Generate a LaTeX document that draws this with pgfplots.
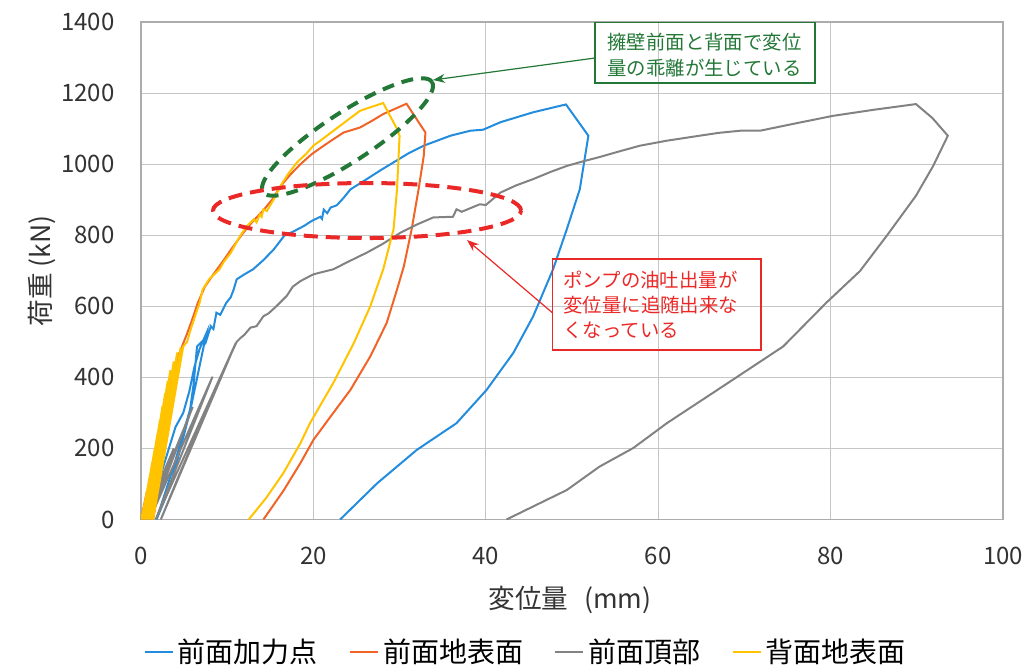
\documentclass[border=0pt]{standalone}
\usepackage{fontspec}
\setmainfont{Noto Sans CJK JP}
\usepackage{pgfplots}
\pgfplotsset{compat=1.18}
\usetikzlibrary{arrows.meta,shapes.geometric}
\definecolor{cBlue}{RGB}{35,140,220}
\definecolor{cOrange}{RGB}{240,100,40}
\definecolor{cGray}{RGB}{130,130,130}
\definecolor{cYellow}{RGB}{255,195,0}
\definecolor{cGreen}{RGB}{35,120,55}
\definecolor{cRed}{RGB}{235,40,40}
\begin{document}
\begin{tikzpicture}
\useasboundingbox (-70.5pt,-75.25pt) rectangle (443pt,259.75pt);
\begin{axis}[
  at={(0pt,0pt)}, anchor=south west,
  scale only axis, width=431pt, height=248.75pt,
  xmin=0, xmax=100, ymin=0, ymax=1400,
  xtick={0,20,...,100}, ytick={0,200,...,1400},
  grid=major, major grid style={gray!45, line width=0.5pt},
  axis line style={gray!65, line width=0.6pt},
  major tick length=0pt,
  tick label style={font=\fontsize{12}{14}\selectfont, text=black!80},
  /pgf/number format/assume math mode=true,
  /pgf/number format/set thousands separator={},
  yticklabel style={inner sep=0pt, anchor=east, xshift=-13pt},
  xticklabel style={inner sep=0pt, anchor=north, yshift=-13.5pt},
  xlabel={変位量\hspace{0.6em}(mm)},
  ylabel={荷重 (kN)},
  label style={font=\fontsize{13.3}{15}\selectfont, text=black!80},
  xlabel style={at={(axis description cs:0.4977,-0.1618)}, anchor=center},
  ylabel style={at={(axis description cs:-0.1148,0.5)}, anchor=center},
  legend columns=4,
  legend cell align=left,
  legend style={at={(axis description cs:0.0023,-0.266)}, anchor=west, draw=none, fill=none, inner sep=0pt,
    font=\fontsize{14}{16}\selectfont, nodes={inner sep=0pt},
    /tikz/every odd column/.append style={column sep=2pt},
    /tikz/every even column/.append style={column sep=15.5pt}},
  legend image code/.code={\draw[#1, line width=1.2pt] (0pt,0pt) -- (14pt,0pt);},
]
\addplot[cBlue, line width=1pt] coordinates {
(0,0)(1.5,100)(0.3,0)(2.8,200)(0.7,0)(4.0,260)(4.9,300)(5.6,360)(6.2,430)(6.8,480)(7.6,525)(5.7,305)(3.5,100)(1.8,0)(3.8,150)(5.7,310)(6.1,380)(6.5,487)(7.3,506)(7.5,498)(8.1,544)(8.4,536)(8.75,582)(9.2,576)(9.9,610)(10.4,625)(10.75,647)(11.1,676)(12.0,690)(13.0,704)(14.2,730)(15.4,760)(16.6,798)(17.8,812)(18.9,826)(19.8,840)(20.8,852)(21.0,846)(21.2,872)(21.6,862)(22.0,878)(22.7,884)(23.5,905)(24.3,929)(26.2,958)(27.8,983)(29.3,1005)(31.0,1030)(32.8,1052)(35.9,1080)(38.2,1094)(39.7,1097)(41.7,1118)(45.5,1146)(49.3,1168)(51.9,1080)(50.9,929)(49.4,817)(47.8,704)(45.5,572)(43.2,469)(40.1,365)(36.6,271)(32.0,196)(27.4,102)(23.1,0)
};
\addlegendentry{前面加力点}
\addplot[cOrange, line width=1pt] coordinates {
(0,0)(0.7,80)(0.15,0)(1.4,160)(0.35,0)(2.1,240)(0.6,0)(2.9,320)(0.8,0)(3.7,400)(1.1,0)(4.4,470)(1.4,0)(4.8,490)(5.3,520)(5.9,560)(6.6,610)(7.4,655)(8.4,690)(9.6,730)(10.6,765)(11.8,805)(13.0,840)(14.2,870)(15.2,900)(16.2,938)(17.3,970)(18.5,1000)(19.8,1028)(21.2,1052)(22.3,1070)(23.5,1089)(25.4,1103)(26.8,1122)(28.1,1141)(29.5,1156)(30.8,1170)(33.0,1089)(32.8,1023)(32.2,929)(31.4,817)(30.5,713)(29.7,647)(28.5,553)(26.6,459)(24.3,365)(22.0,290)(20.0,224)(18.5,159)(16.5,80)(14.2,0)
};
\addlegendentry{前面地表面}
\addplot[cGray, line width=1pt] coordinates {
(0,0)(1.8,100)(0.3,0)(3.8,200)(0.7,0)(6.0,317)(1.0,0)(8.3,402)(1.7,0)(11.0,497)(2.3,0)(4.5,130)(6.8,260)(9.0,390)(11.1,500)(11.6,512)(12.0,520)(12.7,540)(13.4,544)(14.2,572)(14.8,580)(15.7,600)(16.9,629)(17.6,655)(18.5,671)(20.0,690)(22.3,704)(24.0,725)(26.2,751)(28.0,775)(30.1,807)(32.0,830)(33.9,850)(36.2,852)(36.6,873)(37.2,866)(39.3,887)(40.0,885)(41.7,920)(43.5,940)(45.5,958)(47.5,978)(49.4,995)(51.3,1008)(53.2,1020)(55.5,1036)(57.9,1052)(61.0,1066)(64.8,1080)(67.0,1088)(69.5,1094)(71.8,1094)(76.0,1115)(80.3,1136)(85.0,1153)(89.9,1169)(91.8,1130)(93.6,1080)(91.9,995)(89.9,911)(86.5,798)(83.4,699)(79.5,610)(74.5,487)(68.7,394)(61.0,271)(57.1,201)(53.2,149)(49.4,83)(42.4,0)
};
\addlegendentry{前面頂部}
\addplot[cYellow, line width=1pt] coordinates {
(0,0)(0.4,40)(0.05,0)(0.7,80)(0.1,0)(1.0,120)(0.15,0)(1.3,160)(0.2,0)(1.6,200)(0.3,0)(1.9,240)(0.35,0)(2.2,280)(0.45,0)(2.5,320)(0.55,0)(2.8,355)(0.65,0)(3.1,390)(0.8,0)(3.4,420)(0.95,0)(3.8,445)(1.1,0)(4.2,470)(1.25,0)(4.6,485)(1.4,0)(4.9,487)(5.35,500)(5.7,530)(6.4,582)(6.8,610)(7.15,647)(7.9,676)(9.1,704)(9.6,725)(10.4,750)(11.5,798)(12.3,826)(13.1,845)(13.4,836)(13.8,859)(14.0,852)(14.2,873)(14.6,868)(15.4,901)(16.2,939)(17.0,970)(18.1,1005)(19.2,1030)(20.0,1052)(20.8,1066)(22.0,1088)(23.1,1108)(24.2,1128)(25.4,1150)(26.6,1160)(28.1,1172)(29.7,1099)(30.0,1080)(29.7,929)(29.3,817)(28.1,704)(26.6,600)(24.7,497)(22.3,384)(19.6,271)(18.5,215)(16.5,130)(14.5,60)(12.5,0)
};
\addlegendentry{背面地表面}
% annotations
\node[ellipse, draw=cGreen, dash pattern=on 6pt off 4pt, line width=2pt, minimum width=100.8pt, minimum height=24.5pt, inner sep=0pt, rotate=33.1] at (axis cs:23.96,1076.4) {};
\node[ellipse, draw=cRed, dash pattern=on 7pt off 4pt, line width=2pt, minimum width=154pt, minimum height=27.5pt, inner sep=0pt] at (axis cs:26.22,869.5) {};
\draw[cGreen, line width=0.8pt] (axis cs:52.67,1228.2) rectangle (axis cs:78.19,1399.8);
\node[anchor=west, inner sep=0pt, text=cGreen, font=\fontsize{9.7}{11}\selectfont] at (axis cs:54.06,1344) {擁壁前面と背面で変位};
\node[anchor=west, inner sep=0pt, text=cGreen, font=\fontsize{9.7}{11}\selectfont] at (axis cs:54.06,1270.4) {量の乖離が生じている};
\draw[cGreen, line width=0.6pt, -{Stealth[length=6pt, width=4.5pt]}] (axis cs:52.67,1298.7) -- (axis cs:33.87,1236.8);
\draw[cRed, line width=0.8pt] (axis cs:47.76,476.9) rectangle (axis cs:71.89,733.0);
\node[anchor=west, inner sep=0pt, text=cRed, font=\fontsize{9.7}{11}\selectfont] at (axis cs:48.96,673.9) {ポンプの油吐出量が};
\node[anchor=west, inner sep=0pt, text=cRed, font=\fontsize{9.7}{11}\selectfont] at (axis cs:48.96,603.5) {変位量に追随出来な};
\node[anchor=west, inner sep=0pt, text=cRed, font=\fontsize{9.7}{11}\selectfont] at (axis cs:48.96,533.2) {くなっている};
\draw[cRed, line width=0.6pt, -{Stealth[length=6pt, width=4.5pt]}] (axis cs:47.76,581.1) -- (axis cs:37.82,786.5);
\end{axis}
\end{tikzpicture}
\end{document}
